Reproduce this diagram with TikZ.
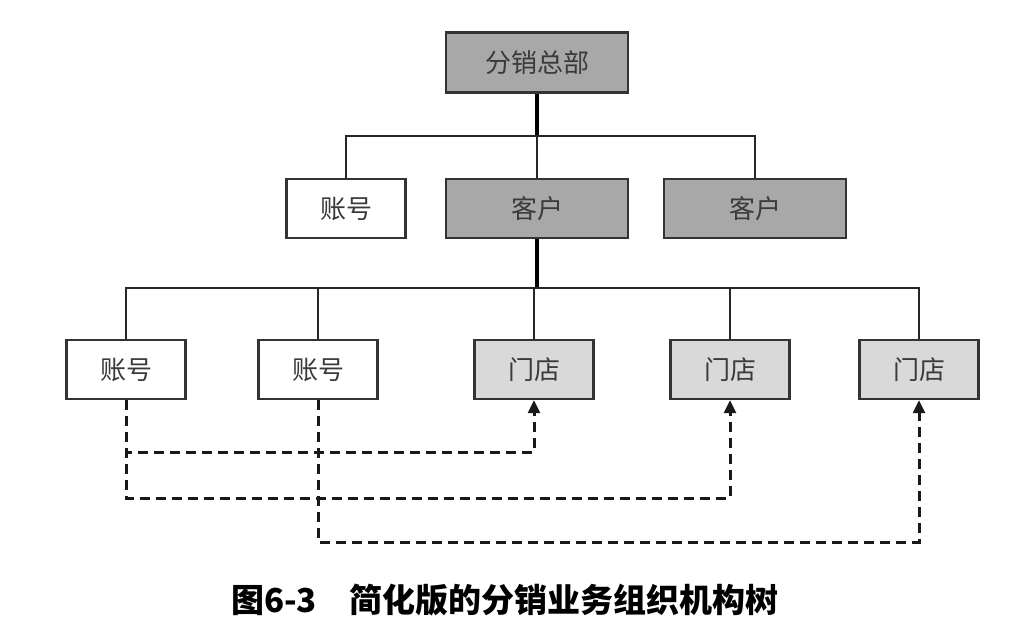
\documentclass[tikz,border=0pt]{standalone}
\usepackage{fontspec}
\newfontfamily\cjk{Noto Sans CJK SC}
\usetikzlibrary{arrows.meta}
\definecolor{darkfill}{HTML}{A8A8A8}
\definecolor{lightfill}{HTML}{D9D9D9}
\definecolor{edge}{HTML}{333333}
\definecolor{txt}{HTML}{3A3A3A}
\begin{document}
\begin{tikzpicture}[x=1pt,y=-1pt,
  box/.style={draw=edge, line width=2.4pt, minimum width=119pt, minimum height=59pt,
    inner sep=0pt, font=\cjk\fontsize{26}{26}\selectfont, text=txt, fill=white},
  bigbox/.style={box, fill=darkfill, minimum width=182pt, minimum height=60pt},
  shopbox/.style={box, fill=lightfill},
  tree/.style={draw=black!85, line width=2pt},
  trunk/.style={draw=black, line width=3.8pt},
  link/.style={draw=black!90, line width=3pt, dash pattern=on 10pt off 6pt},
  tip/.style={-{Triangle[width=12pt,length=13pt]}}
]
\useasboundingbox (0,0) rectangle (1016,644);
\fill[white] (0,0) rectangle (1016,644);

% nodes
\node[bigbox] (hq) at (537,62.5) {分销总部};
\node[box, minimum height=59pt] (a1) at (346,208.5) {账号};
\node[bigbox, minimum height=59pt] (c1) at (537,208.5) {客户};
\node[bigbox, minimum height=59pt] (c2) at (755,208.5) {客户};

\node[box] (b1) at (126,369.5) {账号};
\node[box] (b2) at (318,369.5) {账号};
\node[shopbox] (s1) at (534,369.5) {门店};
\node[shopbox] (s2) at (730,369.5) {门店};
\node[shopbox] (s3) at (919,369.5) {门店};

% junction coordinates
\coordinate (j1) at (537,136);
\coordinate (j2) at (537,288);
\coordinate (d1) at (0,452);
\coordinate (d2) at (0,498);
\coordinate (d3) at (0,542);

% tree connectors
\draw[trunk] (hq.south) -- (j1);
\draw[tree] (a1.north) -- (a1.north |- j1) -- (c2.north |- j1) -- (c2.north);
\draw[tree] (j1) -- (c1.north);
\draw[trunk] (c1.south) -- (j2);
\draw[tree] (b1.north) -- (b1.north |- j2) -- (s3.north |- j2) -- (s3.north);
\draw[tree] (b2.north |- j2) -- (b2.north);
\draw[tree] (s1.north |- j2) -- (s1.north);
\draw[tree] (s2.north |- j2) -- (s2.north);

% dashed links
\draw[link, tip] (b1.south) -- (b1.south |- d1) -- (s1.south |- d1) -- (s1.south);
\draw[link, tip] (b1.south) -- (b1.south |- d2) -- (s2.south |- d2) -- (s2.south);
\draw[link, tip] (b2.south) -- (b2.south |- d3) -- (s3.south |- d3) -- (s3.south);

% caption
\node[font=\cjk\bfseries\fontsize{33}{33}\selectfont, text=black] (cap) at (505,600) {图6-3\hspace{1em}简化版的分销业务组织机构树};
\end{tikzpicture}
\end{document}
